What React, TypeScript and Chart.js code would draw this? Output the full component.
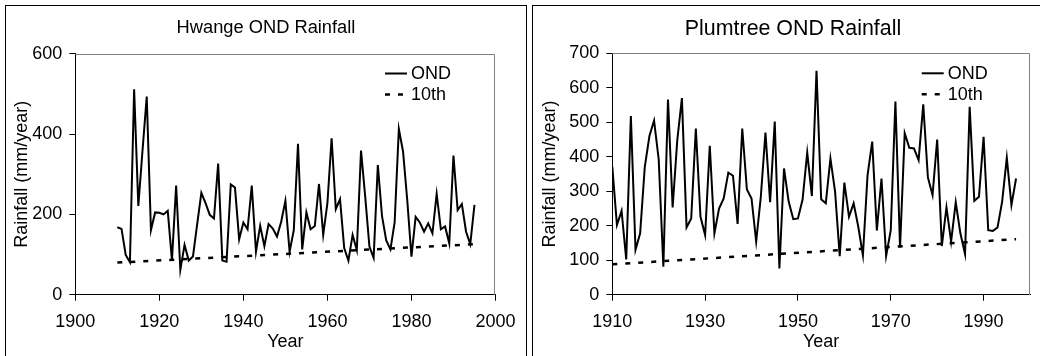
import React, { useEffect, useRef } from 'react';
import { Chart, registerables } from 'chart.js';

Chart.register(...registerables);

const FONT = "'Liberation Sans', Arial, Helvetica, sans-serif";

// ---------------- Hwange ----------------
const HWANGE_YEARS = [
  1910, 1911, 1912, 1913, 1914, 1915, 1916, 1917, 1918, 1919,
  1920, 1921, 1922, 1923, 1924, 1925, 1926, 1927, 1928, 1929,
  1930, 1931, 1932, 1933, 1934, 1935, 1936, 1937, 1938, 1939,
  1940, 1941, 1942, 1943, 1944, 1945, 1946, 1947, 1948, 1949,
  1950, 1951, 1952, 1953, 1954, 1955, 1956, 1957, 1958, 1959,
  1960, 1961, 1962, 1963, 1964, 1965, 1966, 1967, 1968, 1969,
  1970, 1971, 1972, 1973, 1974, 1975, 1976, 1977, 1978, 1979,
  1980, 1981, 1982, 1983, 1984, 1985, 1986, 1987, 1988, 1989,
  1990, 1991, 1992, 1993, 1994, 1995,
];
const HWANGE_OND = [
  168, 164, 99, 81, 512, 221, 360, 494, 161, 205,
  204, 200, 209, 86, 272, 62, 124, 85, 95, 175,
  254, 228, 199, 190, 327, 85, 82, 275, 267, 138,
  180, 163, 272, 107, 172, 121, 176, 165, 145, 182,
  234, 107, 161, 376, 113, 205, 163, 171, 276, 149,
  228, 390, 213, 238, 116, 85, 149, 111, 359, 244,
  120, 92, 323, 196, 135, 113, 180, 413, 357, 236,
  95, 194, 180, 157, 178, 153, 251, 163, 170, 128,
  347, 211, 226, 157, 126, 224,
];
const HWANGE_P10_YEARS = [1910, 1995];
const HWANGE_P10 = [80, 126];
const HWANGE_X_TICKS = [1900, 1920, 1940, 1960, 1980, 2000];
const HWANGE_Y_TICKS = [0, 200, 400, 600];

// ---------------- Plumtree ----------------
const PLUMTREE_YEARS = [
  1910, 1911, 1912, 1913, 1914, 1915, 1916, 1917, 1918, 1919,
  1920, 1921, 1922, 1923, 1924, 1925, 1926, 1927, 1928, 1929,
  1930, 1931, 1932, 1933, 1934, 1935, 1936, 1937, 1938, 1939,
  1940, 1941, 1942, 1943, 1944, 1945, 1946, 1947, 1948, 1949,
  1950, 1951, 1952, 1953, 1954, 1955, 1956, 1957, 1958, 1959,
  1960, 1961, 1962, 1963, 1964, 1965, 1966, 1967, 1968, 1969,
  1970, 1971, 1972, 1973, 1974, 1975, 1976, 1977, 1978, 1979,
  1980, 1981, 1982, 1983, 1984, 1985, 1986, 1987, 1988, 1989,
  1990, 1991, 1992, 1993, 1994, 1995, 1996, 1997,
];
const PLUMTREE_OND = [
  371, 202, 243, 102, 518, 130, 178, 371, 460, 505,
  392, 81, 566, 253, 448, 570, 195, 221, 482, 226,
  173, 432, 178, 250, 279, 354, 345, 205, 482, 305,
  279, 154, 284, 470, 268, 502, 76, 366, 270, 219,
  221, 276, 412, 286, 649, 277, 265, 395, 299, 112,
  325, 226, 265, 197, 114, 347, 444, 186, 337, 112,
  187, 560, 137, 468, 426, 424, 390, 552, 340, 289,
  450, 141, 253, 154, 268, 178, 118, 545, 272, 284,
  458, 187, 185, 195, 270, 397, 260, 337,
];
const PLUMTREE_P10_YEARS = [1910, 1997];
const PLUMTREE_P10 = [88, 161];
const PLUMTREE_X_TICKS = [1910, 1930, 1950, 1970, 1990];
const PLUMTREE_Y_TICKS = [0, 100, 200, 300, 400, 500, 600, 700];

const plotFrame = {
  id: 'plotFrame',
  beforeDatasetsDraw(chart: any) {
    const { ctx, chartArea } = chart;
    const t = Math.round(chartArea.top) + 0.5;
    const r = Math.round(chartArea.right) - 0.5;
    const b = Math.round(chartArea.bottom);
    ctx.save();
    ctx.strokeStyle = '#808080';
    ctx.lineWidth = 1;
    ctx.beginPath();
    ctx.moveTo(chartArea.left, t);
    ctx.lineTo(r, t);
    ctx.lineTo(r, b);
    ctx.stroke();
    ctx.restore();
  },
};

const insideLegend = {
  id: 'insideLegend',
  afterDatasetsDraw(chart: any, _args: any, opts: any) {
    const { ctx } = chart;
    ctx.save();
    chart.data.datasets.forEach((ds: any, i: number) => {
      const y = opts.y + i * opts.rowGap;
      ctx.beginPath();
      ctx.setLineDash(ds.borderDash || []);
      ctx.lineWidth = ds.borderWidth;
      ctx.strokeStyle = ds.borderColor;
      ctx.moveTo(opts.x, y);
      ctx.lineTo(opts.x + opts.len, y);
      ctx.stroke();
      ctx.setLineDash([]);
      ctx.fillStyle = '#000';
      ctx.font = `${opts.size}px ${FONT}`;
      ctx.textAlign = 'left';
      ctx.textBaseline = 'middle';
      ctx.fillText(ds.label, opts.x + opts.len + opts.gap, y + 0.5);
    });
    ctx.restore();
  },
};

function buildConfig(p: any): any {
  return {
    type: 'line',
    data: {
      datasets: [
        {
          label: 'OND',
          data: p.years.map((x: number, i: number) => ({ x, y: p.ond[i] })),
          borderColor: '#000',
          borderWidth: 2,
          pointRadius: 0,
          tension: 0,
          fill: false,
        },
        {
          label: '10th',
          data: p.p10Years.map((x: number, i: number) => ({ x, y: p.p10[i] })),
          borderColor: '#000',
          borderWidth: 2.5,
          borderDash: [5, 8],
          pointRadius: 0,
          tension: 0,
          fill: false,
        },
      ],
    },
    options: {
      animation: false,
      responsive: false,
      devicePixelRatio: 1,
      layout: { padding: 0 },
      scales: {
        x: {
          type: 'linear',
          min: p.xMin,
          max: p.xMax,
          afterBuildTicks: (s: any) => {
            s.ticks = p.xTicks.map((v: number) => ({ value: v }));
          },
          afterFit: (s: any) => {
            s.height = p.xAxisHeight;
          },
          grid: { drawOnChartArea: false, drawTicks: true, tickLength: 6, color: '#000', lineWidth: 1 },
          border: { display: true, color: '#000', width: 1 },
          ticks: {
            font: { size: 18, family: FONT },
            color: '#000',
            padding: 10.5,
            maxRotation: 0,
            autoSkip: false,
            callback: (v: any) => String(v),
          },
          title: {
            display: true,
            text: 'Year',
            font: { size: 18, family: FONT },
            color: '#000',
            padding: { top: 0, bottom: 3.5 },
          },
        },
        y: {
          type: 'linear',
          min: p.yMin,
          max: p.yMax,
          afterBuildTicks: (s: any) => {
            s.ticks = p.yTicks.map((v: number) => ({ value: v }));
          },
          afterFit: (s: any) => {
            s.width = p.yAxisWidth;
          },
          grid: { drawOnChartArea: false, drawTicks: true, tickLength: 6, color: '#000', lineWidth: 1 },
          border: { display: true, color: '#000', width: 1 },
          ticks: {
            font: { size: 18, family: FONT },
            color: '#000',
            padding: 7,
            autoSkip: false,
            callback: (v: any) => String(v),
          },
          title: {
            display: true,
            text: 'Rainfall (mm/year)',
            font: { size: 18, family: FONT },
            color: '#000',
            padding: { top: p.yTitlePad, bottom: 0 },
          },
        },
        spacer: {
          type: 'linear',
          position: 'right',
          display: true,
          grid: { display: false, drawTicks: false },
          border: { display: false },
          ticks: { display: false },
          afterFit: (s: any) => {
            s.width = p.rightPad;
          },
        },
      },
      plugins: {
        legend: { display: false },
        tooltip: { enabled: false },
        title: {
          display: true,
          text: p.title,
          color: '#000',
          font: { size: p.titleSize, family: FONT, weight: 'normal' },
          padding: { top: p.titleTop, bottom: p.titleBottom },
        },
        insideLegend: p.legend,
      },
    },
    plugins: [plotFrame, insideLegend],
  };
}

export default function App() {
  const leftRef = useRef<HTMLCanvasElement>(null);
  const rightRef = useRef<HTMLCanvasElement>(null);

  useEffect(() => {
    Chart.defaults.font.family = FONT;
    Chart.defaults.color = '#000';
    const left = new Chart(
      leftRef.current as HTMLCanvasElement,
      buildConfig({
        title: 'Hwange OND Rainfall',
        titleSize: 18.3,
        titleTop: 10.8,
        titleBottom: 15.2,
        years: HWANGE_YEARS,
        ond: HWANGE_OND,
        p10Years: HWANGE_P10_YEARS,
        p10: HWANGE_P10,
        xMin: 1900,
        xMax: 2000,
        xTicks: HWANGE_X_TICKS,
        yMin: 0,
        yMax: 600,
        yTicks: HWANGE_Y_TICKS,
        yAxisWidth: 69.3,
        xAxisHeight: 61.3,
        rightPad: 24,
        yTitlePad: 5.5,
        legend: { x: 379, y: 67.5, rowGap: 21, len: 22, gap: 4, size: 18 },
      })
    );
    const right = new Chart(
      rightRef.current as HTMLCanvasElement,
      buildConfig({
        title: 'Plumtree OND Rainfall',
        titleSize: 21.4,
        titleTop: 10.5,
        titleBottom: 11.1,
        years: PLUMTREE_YEARS,
        ond: PLUMTREE_OND,
        p10Years: PLUMTREE_P10_YEARS,
        p10: PLUMTREE_P10,
        xMin: 1910,
        xMax: 2000,
        xTicks: PLUMTREE_X_TICKS,
        yMin: 0,
        yMax: 700,
        yTicks: PLUMTREE_Y_TICKS,
        yAxisWidth: 79.3,
        xAxisHeight: 61.3,
        rightPad: 23,
        yTitlePad: 6,
        legend: { x: 388.7, y: 67.3, rowGap: 21, len: 22, gap: 4, size: 18 },
      })
    );
    return () => {
      left.destroy();
      right.destroy();
    };
  }, []);

  const box: React.CSSProperties = {
    position: 'absolute',
    top: 5,
    height: 362,
    border: '1px solid #000',
    boxSizing: 'border-box',
    background: '#fff',
  };

  return (
    <div
      style={{
        position: 'fixed',
        left: 0,
        top: 0,
        width: 1040,
        height: 356,
        overflow: 'hidden',
        background: '#fff',
      }}
    >
      <div style={{ ...box, left: 5, width: 522 }}>
        <canvas ref={leftRef} width={520} height={350} style={{ display: 'block' }} />
      </div>
      <div style={{ ...box, left: 532, width: 523 }}>
        <canvas ref={rightRef} width={520} height={350} style={{ display: 'block' }} />
      </div>
    </div>
  );
}
